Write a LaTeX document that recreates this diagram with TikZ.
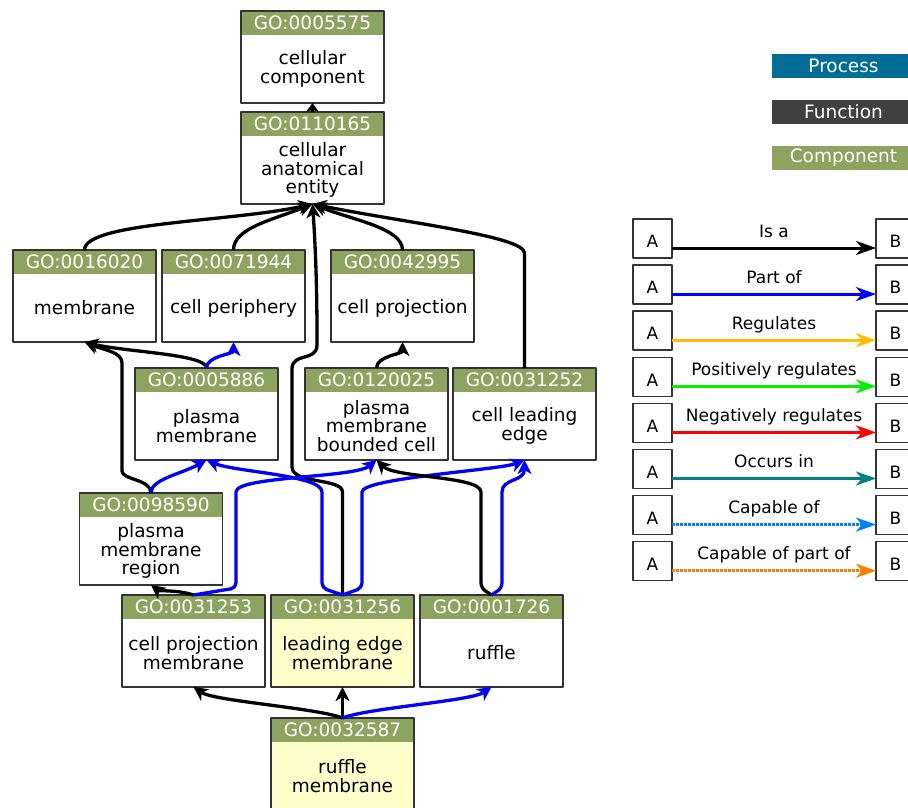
\documentclass[tikz,border=0pt]{standalone}
\usepackage{fontspec}
\setmainfont{DejaVu Sans}
\usetikzlibrary{arrows.meta}

\definecolor{gogreen}{RGB}{141,163,96}
\definecolor{goyellow}{RGB}{255,255,204}
\definecolor{goframe}{RGB}{51,51,51}
\definecolor{procblue}{RGB}{0,109,150}
\definecolor{funcgray}{RGB}{64,64,64}
\definecolor{reggold}{RGB}{255,190,0}
\definecolor{posgreen}{RGB}{0,240,0}
\definecolor{occteal}{RGB}{0,128,128}
\definecolor{capblue}{RGB}{0,128,255}
\definecolor{caporange}{RGB}{255,128,0}

\tikzset{
  goterm/.style={rectangle, minimum width=143pt, minimum height=92pt, inner sep=0pt, outer sep=0pt},
  goid/.style={text=white, inner sep=0pt, font=\fontsize{18.5}{18.5}\selectfont},
  goname/.style={align=center, inner sep=0pt, font=\fontsize{18.5}{18.3}\selectfont},
  isa/.style={->, line width=3.3pt, draw=black, rounded corners=5pt},
  partof/.style={isa, draw=blue},
  legbar/.style={minimum width=143pt, minimum height=24pt, inner sep=0pt, text=white, font=\fontsize{18.5}{18.5}\selectfont},
  legbox/.style={draw=goframe, line width=1.5pt, fill=white, minimum size=39pt, inner sep=0pt, outer sep=0pt,
    text height=18.5pt, text depth=0pt, font=\fontsize{17}{17}\selectfont},
  legarrow/.style={line width=3pt, -{Stealth[length=20pt,width=14pt,inset=6pt]}},
  capdots/.style={dash pattern=on 2.5pt off 1.5pt},
}

\newcommand{\goterm}[6][white]{%
  \node[goterm, fill=#1] (#2) at (#3,#4) {};
  \fill[gogreen] (#2.north west) rectangle ([yshift=-24pt]#2.north east);
  \draw[goframe, line width=1.5pt] (#2.north west) rectangle (#2.south east);
  \node[goid] at ([yshift=-12pt]#2.north) {#5};
  \node[goname] at ([yshift=-12pt]#2.center) {#6};
}

\begin{document}
\begin{tikzpicture}[x=1pt, y=-1pt, line join=round,
    >={Stealth[length=14pt,width=14pt,inset=4pt]}]
  \useasboundingbox (0,0) rectangle (908,808);
  \clip (0,0) rectangle (908,808);

  \goterm{n0005575}{312.5}{57}{GO:0005575}{cellular\\component}
  \goterm{n0110165}{312.5}{158}{GO:0110165}{cellular\\anatomical\\entity}
  \goterm{n0016020}{84.5}{296}{GO:0016020}{membrane}
  \goterm{n0071944}{233.5}{296}{GO:0071944}{cell periphery}
  \goterm{n0042995}{402.5}{296}{GO:0042995}{cell projection}
  \goterm{n0005886}{206.5}{414}{GO:0005886}{plasma\\membrane}
  \goterm{n0120025}{376.5}{414}{GO:0120025}{plasma\\membrane\\bounded cell}
  \goterm{n0031252}{524.5}{414}{GO:0031252}{cell leading\\edge}
  \goterm{n0098590}{151}{539}{GO:0098590}{plasma\\membrane\\region}
  \goterm{n0031253}{193.5}{641}{GO:0031253}{cell projection\\membrane}
  \goterm[goyellow]{n0031256}{342.5}{641}{GO:0031256}{leading edge\\membrane}
  \goterm{n0001726}{491.5}{641}{GO:0001726}{ruffle}
  \goterm[goyellow]{n0032587}{342.5}{764}{GO:0032587}{ruffle\\membrane}

  \draw[isa, -{Stealth[length=8.5pt,width=12pt,inset=1.5pt]}] (n0110165.north) -- (n0005575.south);
  \draw[isa] (n0016020.north) .. controls +(0,-28) and +(-80,18) .. (n0110165.south);
  \draw[isa] (n0071944.north) .. controls +(0,-22) and +(-40,16) .. (n0110165.south);
  \draw[isa] (n0042995.north) .. controls +(0,-22) and +(40,16) .. (n0110165.south);
  \draw[isa] (n0031252.north) -- (524.5,258) .. controls (524.5,236) and (400,222) .. (n0110165.south);
  \draw[isa] (n0031256.north) -- (342.5,497) .. controls (342.5,478) and (292,484) .. (292,462)
    -- (292,374) .. controls (292,352) and (317,362) .. (317,340)
    .. controls (317,270) and (314,225) .. (n0110165.south);
  \draw[isa] (n0005886.north) .. controls +(0,-14) and +(40,10) .. (n0016020.south);
  \draw[partof] (n0005886.north) .. controls +(0,-12) and +(0,12) .. (n0071944.south);
  \draw[isa] (n0120025.north) .. controls +(0,-12) and +(0,12) .. (n0042995.south);
  \draw[isa] (n0098590.north) .. controls +(0,-14) and +(0,14) .. (122,466) -- (122,368)
    .. controls (122,352) and (104,350) .. (n0016020.south);
  \draw[partof] (n0098590.north) .. controls +(0,-14) and +(-25,14) .. (n0005886.south);
  \draw[isa] (n0031253.north) .. controls +(-15,-5) and +(8,6) .. (n0098590.south);
  \draw[partof] (n0031253.north) -- (236,588) -- (236,497) .. controls (236,476) and (355,478) .. (n0120025.south);
  \draw[partof] (n0031256.north) -- (322,588) -- (322,497) .. controls (322,475) and (235,472) .. (n0005886.south);
  \draw[partof] (n0031256.north) -- (362,588) -- (362,497) .. controls (362,478) and (500,470) .. (n0031252.south);
  \draw[isa] (n0001726.north) -- (481,588) -- (481,497) .. controls (481,476) and (395,478) .. (n0120025.south);
  \draw[partof] (n0001726.north) -- (502,588) -- (502,497) .. controls (502,478) and (524.5,482) .. (n0031252.south);
  \draw[isa] (n0032587.north) .. controls +(-25,-10) and +(20,14) .. (n0031253.south);
  \draw[isa] (n0032587.north) -- (n0031256.south);
  \draw[partof] (n0032587.north) .. controls +(25,-10) and +(-20,14) .. (n0001726.south);

  \node[legbar, fill=procblue] (lproc) at (843.5,66) {Process};
  \node[legbar, fill=funcgray] (lfunc) at (843.5,111.5) {Function};
  \node[legbar, fill=gogreen] (lcomp) at (843.5,157.5) {Component};

  \foreach \i/\rel/\col in {0/Is a/black, 1/Part of/blue, 2/Regulates/reggold,
      3/Positively regulates/posgreen, 4/Negatively regulates/red, 5/Occurs in/occteal,
      6/Capable of/capblue, 7/Capable of part of/caporange} {
    \pgfmathsetmacro{\y}{238.5+46.1*\i}
    \node[legbox] (la\i) at (652.5,\y) {A};
    \node[legbox] (lb\i) at (895.5,\y) {B};
    \ifnum\i<6
      \draw[legarrow, draw=\col] ([yshift=-9.5pt]la\i.east) -- ([yshift=-9.5pt]lb\i.west)
        node[midway, anchor=base, yshift=11pt, black, font=\fontsize{17}{17}\selectfont] {\rel};
    \else
      \draw[legarrow, capdots, draw=\col] ([yshift=-9.5pt]la\i.east) -- ([yshift=-9.5pt]lb\i.west)
        node[midway, anchor=base, yshift=11pt, black, font=\fontsize{17}{17}\selectfont] {\rel};
    \fi
  }
\end{tikzpicture}
\end{document}
